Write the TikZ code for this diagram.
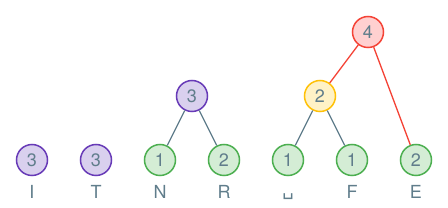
\documentclass[tikz,border=0pt]{standalone}
\usepackage{fontspec}
\setmainfont{TeX Gyre Heros}
\newfontfamily\symfont{DejaVu Sans}
\usepackage{tikz}
\usetikzlibrary{positioning}
\definecolor{slate}{HTML}{607D8B}
\definecolor{purpleline}{HTML}{673AB7}
\definecolor{purplefill}{HTML}{D9D0EE}
\definecolor{greenline}{HTML}{4CAF50}
\definecolor{greenfill}{HTML}{D4EDD5}
\definecolor{goldline}{HTML}{FFC107}
\definecolor{goldfill}{HTML}{FFF2C6}
\definecolor{redline}{HTML}{F44336}
\definecolor{redfill}{HTML}{FFD0D0}

\begin{document}
\begin{tikzpicture}[x=1pt, y=-1pt,
  every node/.style={font=\fontsize{18}{20}\selectfont, text=slate},
  huff/.style={circle, line width=1.5pt, minimum size=31pt, inner sep=0pt},
  leaf/.style={huff, draw=greenline, fill=greenfill},
  merged/.style={huff, draw=purpleline, fill=purplefill},
  sym/.style={below=9pt of #1, anchor=north, text height=13pt, text depth=0pt, inner sep=0pt},
  link/.style={line width=1.3pt, slate},
  hot/.style={line width=1.3pt, redline}]
  \useasboundingbox (0,0) rectangle (448,208);

  % Bottom row
  \node[merged] (i) at (32,160) {3};
  \node[merged] (t) at (96,160) {3};
  \node[leaf] (n) at (160,160) {1};
  \node[leaf] (r) at (224,160) {2};
  \node[leaf] (sp) at (288,160) {1};
  \node[leaf] (f) at (352,160) {1};
  \node[leaf] (e) at (416,160) {2};

  % Inner nodes
  \node[merged] (nr) at (192,96) {3};
  \node[huff, draw=goldline, fill=goldfill] (spf) at (320,96) {2};
  \node[huff, draw=redline, fill=redfill] (top) at (368,32) {4};

  % Edges
  \draw[link] (nr) -- (n);
  \draw[link] (nr) -- (r);
  \draw[link] (spf) -- (sp);
  \draw[link] (spf) -- (f);
  \draw[hot] (top) -- (spf);
  \draw[hot] (top) -- (e);

  % Symbols
  \node[sym=i] {I};
  \node[sym=t] {T};
  \node[sym=n] {N};
  \node[sym=r] {R};
  \node[sym=sp] {\raisebox{2.5pt}{\symfont ␣}};
  \node[sym=f] {F};
  \node[sym=e] {E};
\end{tikzpicture}
\end{document}
